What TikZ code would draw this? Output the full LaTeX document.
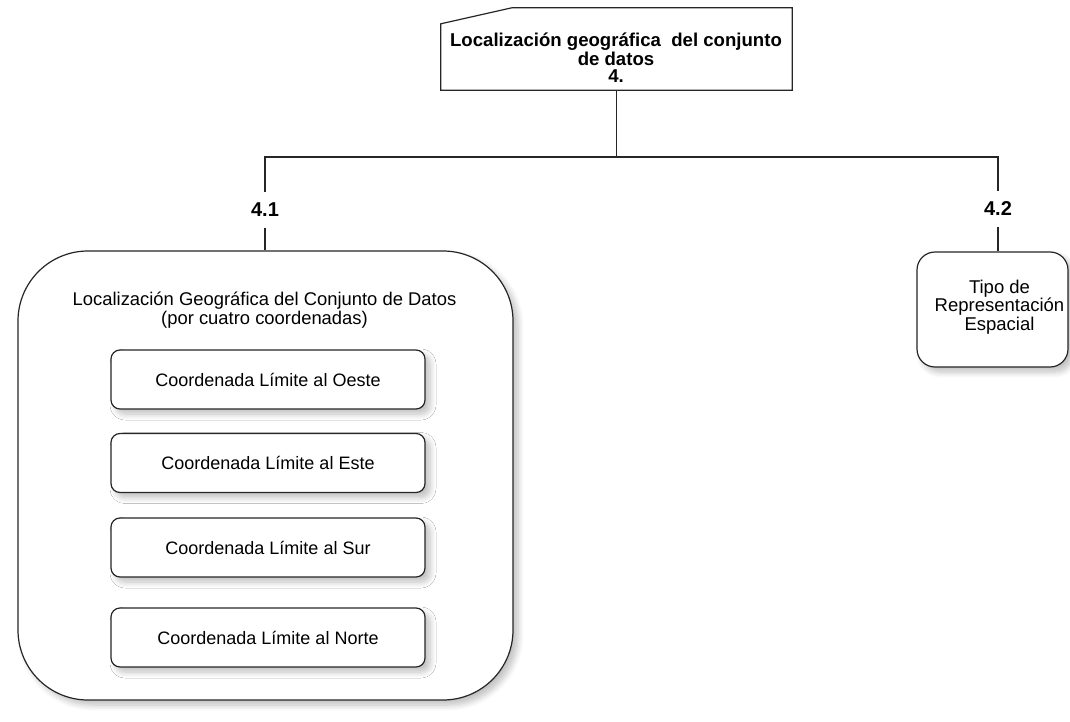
\documentclass[tikz,border=0pt]{standalone}
\usepackage{fontspec}
\setmainfont{Liberation Sans}
\usetikzlibrary{shadows.blur,calc}
\begin{document}
\begin{tikzpicture}[x=1pt,y=-1pt,
  ln/.style={draw=black!85,line width=1.2pt},
  shd/.style={blur shadow={shadow xshift=5pt,shadow yshift=-5pt,shadow blur radius=6pt,shadow blur steps=8,shadow opacity=25}},
  inbox/.style={ln,fill=white,rounded corners=9pt,minimum width=314pt,minimum height=59pt,inner sep=0pt,font=\fontsize{18}{18}\selectfont,shd},
  lbl/.style={font=\fontsize{20}{20}\selectfont\bfseries,minimum height=36pt,inner sep=0pt},
  txt/.style={align=center,inner sep=0pt}
]
\useasboundingbox (0,0) rectangle (1070,722);
% top box (manual input shape)
\node[txt,minimum width=351pt,minimum height=82pt] (top) at (616.5,49) {};
\draw[ln,fill=white] (top.south west) -- ($(top.north west)+(0,16)$) -- ($(top.north west)+(71,0)$) -- (top.north east) -- (top.south east) -- cycle;
\node[txt,font=\fontsize{18.6}{17}\selectfont\bfseries] (toptxt) at (616,57.5) {Localización geográfica\ \ del conjunto\\de datos\\4.};
% labels
\node[lbl] (l41) at (265,210) {4.1};
\node[lbl] (l42) at (998,209) {4.2};
% big box
\node[ln,fill=white,rounded corners=70pt,minimum width=495pt,minimum height=449pt,inner sep=0pt,shd] (big) at (265.5,475.5) {};
\node[txt,font=\fontsize{18.4}{18.5}\selectfont] (bigtxt) at (264.5,310) {Localización Geográfica del Conjunto de Datos\\(por cuatro coordenadas)};
\node[inbox] (oeste) at (268,379.5) {Coordenada Límite al Oeste};
\node[inbox] (este) at (268,463) {Coordenada Límite al Este};
\node[inbox] (sur) at (268,547.5) {Coordenada Límite al Sur};
\node[inbox] (norte) at (268,637.5) {Coordenada Límite al Norte};
% right box
\node[ln,fill=white,rounded corners=18pt,minimum width=151pt,minimum height=115pt,inner sep=0pt,shd] (tipo) at (992.5,309.5) {};
\node[txt,font=\fontsize{18.5}{16.5}\selectfont] (tipotxt) at (999.5,307) {Tipo de\\Representación\\Espacial};
% connectors
\coordinate (j) at (top.south |- 0,157);
\draw[ln] (top.south) -- (j);
\draw[ln] (j) -| (l41.north);
\draw[ln] (j) -| (l42.north);
\draw[ln] (l41.south) -- (big.north -| l41.south);
\draw[ln] (l42.south) -- (tipo.north -| l42.south);
\end{tikzpicture}
\end{document}
